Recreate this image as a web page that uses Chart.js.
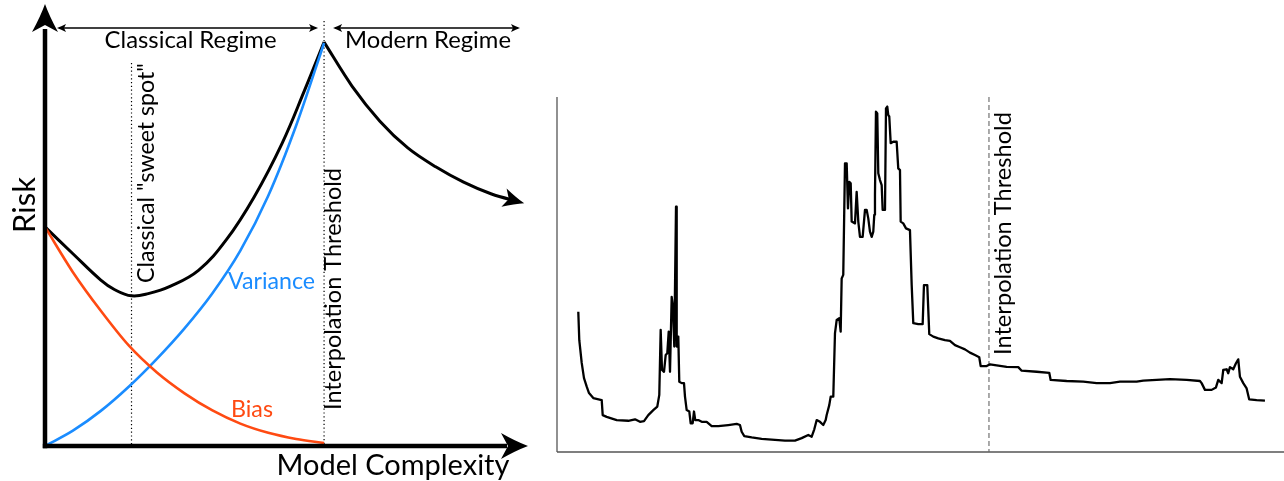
<!DOCTYPE html>
<html>
<head>
<meta charset="utf-8">
<script src="https://cdn.jsdelivr.net/npm/chart.js@4"></script>
<style>
  html, body { margin: 0; padding: 0; background: #fff; }
  #wrap { position: relative; width: 1284px; height: 481px; }
  #left { position: absolute; left: 0; top: 0; }
  #right { position: absolute; left: 540px; top: 0; }
</style>
</head>
<body>
<div id="wrap">
  <canvas id="left" width="540" height="481"></canvas>
  <canvas id="right" width="744" height="481"></canvas>
</div>
<script>
// ---- left panel: classical bias / variance picture ----
const complexity = [0, 0.1, 0.2, 0.3, 0.4, 0.5, 0.6, 0.7, 0.8, 0.9, 1.0];
const bias = [0.499, 0.396, 0.308, 0.229, 0.168, 0.120, 0.081, 0.051, 0.030, 0.016, 0.007];
const variance = [0, 0.035, 0.080, 0.135, 0.198, 0.268, 0.348, 0.445, 0.570, 0.730, 0.918];
const riskComplexity = [0, 0.1, 0.2, 0.25, 0.31, 0.37, 0.45, 0.55, 0.65, 0.75, 0.85, 0.93, 1.0];
const classicalRisk = [0.499, 0.438, 0.378, 0.356, 0.342, 0.347, 0.364, 0.400, 0.470, 0.568, 0.690, 0.810, 0.920];
const modernComplexity = [1.0, 1.1, 1.2, 1.3, 1.4, 1.5, 1.6, 1.7];
const modernRisk = [0.920, 0.820, 0.740, 0.679, 0.636, 0.601, 0.574, 0.556];
const sweetSpot = 0.31;
const threshold = 1.0;

// ---- right panel: measured test risk ----
const capacity = [
  0.0493, 0.0516, 0.0572, 0.0625, 0.0688, 0.0741, 0.0840, 0.1035, 0.1058, 0.1150,
  0.1382, 0.1650, 0.1806, 0.1921, 0.2014, 0.2113, 0.2229, 0.2322, 0.2368, 0.2400,
  0.2431, 0.2477, 0.2516, 0.2553, 0.2586, 0.2616, 0.2655, 0.2685, 0.2715, 0.2755,
  0.2771, 0.2808, 0.2831, 0.2887, 0.2940, 0.2963, 0.3002, 0.3063, 0.3095, 0.3141,
  0.3171, 0.3201, 0.3271, 0.3350, 0.3465, 0.3581, 0.3734, 0.3965, 0.4160, 0.4236,
  0.4275, 0.4336, 0.4507, 0.4738, 0.5046, 0.5278, 0.5509, 0.5664, 0.5817, 0.5896,
  0.5956, 0.6012, 0.6088, 0.6164, 0.6220, 0.6243, 0.6303, 0.6336, 0.6396, 0.6435,
  0.6475, 0.6535, 0.6567, 0.6590, 0.6627, 0.6667, 0.6706, 0.6736, 0.6766, 0.6799,
  0.6822, 0.6898, 0.6937, 0.6975, 0.7014, 0.7076, 0.7130, 0.7169, 0.7206, 0.7245,
  0.7285, 0.7322, 0.7345, 0.7361, 0.7384, 0.7414, 0.7438, 0.7477, 0.7516, 0.7539,
  0.7593, 0.7616, 0.7646, 0.7669, 0.7692, 0.7725, 0.7785, 0.7863, 0.7900, 0.7940,
  0.7956, 0.8016, 0.8079, 0.8171, 0.8211, 0.8248, 0.8363, 0.8465, 0.8495, 0.8572,
  0.8618, 0.8711, 0.8826, 0.8981, 0.9097, 0.9213, 0.9329, 0.9444, 0.9560, 0.9676,
  0.9775, 0.9808, 0.9947, 1.0023, 1.0178, 1.0410, 1.0678, 1.0757, 1.1104, 1.1396,
  1.1428, 1.1799, 1.2183, 1.2493, 1.2801, 1.3032, 1.3419, 1.3572, 1.4190, 1.4576,
  1.4884, 1.4923, 1.5000, 1.5155, 1.5255, 1.5308, 1.5387, 1.5424, 1.5502, 1.5539,
  1.5579, 1.5655, 1.5718, 1.5771, 1.5810, 1.5887, 1.5965, 1.6025, 1.6197, 1.6389
];
const testRisk = [
  0.395, 0.315, 0.251, 0.208, 0.184, 0.166, 0.152, 0.146, 0.104, 0.099,
  0.090, 0.088, 0.092, 0.085, 0.087, 0.104, 0.118, 0.128, 0.161, 0.344,
  0.231, 0.226, 0.273, 0.278, 0.339, 0.226, 0.437, 0.409, 0.297, 0.691,
  0.297, 0.325, 0.198, 0.194, 0.194, 0.156, 0.118, 0.114, 0.081, 0.081,
  0.114, 0.090, 0.090, 0.085, 0.085, 0.073, 0.073, 0.076, 0.079, 0.076,
  0.057, 0.045, 0.041, 0.037, 0.034, 0.032, 0.032, 0.039, 0.048, 0.043,
  0.064, 0.090, 0.085, 0.076, 0.090, 0.104, 0.132, 0.156, 0.156, 0.334,
  0.372, 0.377, 0.339, 0.489, 0.499, 0.813, 0.813, 0.686, 0.761, 0.757,
  0.649, 0.644, 0.733, 0.649, 0.606, 0.606, 0.682, 0.682, 0.658, 0.621,
  0.606, 0.621, 0.668, 0.724, 0.959, 0.954, 0.785, 0.766, 0.752, 0.682,
  0.682, 0.968, 0.973, 0.949, 0.945, 0.870, 0.874, 0.874, 0.799, 0.794,
  0.649, 0.644, 0.630, 0.625, 0.470, 0.363, 0.360, 0.360, 0.470, 0.470,
  0.332, 0.325, 0.320, 0.315, 0.313, 0.301, 0.295, 0.289, 0.280, 0.273,
  0.267, 0.242, 0.242, 0.247, 0.244, 0.240, 0.239, 0.229, 0.226, 0.223,
  0.203, 0.200, 0.198, 0.194, 0.194, 0.198, 0.198, 0.201, 0.205, 0.203,
  0.200, 0.194, 0.175, 0.175, 0.182, 0.203, 0.194, 0.231, 0.233, 0.222,
  0.239, 0.233, 0.250, 0.261, 0.212, 0.194, 0.179, 0.148, 0.146, 0.145
];
const interpolationPoint = 1.0;

const FONT = 'Lato, sans-serif';
const RED = '#ff4a12';
const BLUE = '#1a8cff';

function pts(xs, ys) {
  return xs.map((x, i) => ({ x: x, y: ys[i] }));
}

function fitSize(ctx, text, len) {
  ctx.font = '100px ' + FONT;
  return 100 * len / ctx.measureText(text).width;
}

// text of a given length; rotated ones read bottom to top
function label(ctx, text, x, y, len, opts) {
  opts = opts || {};
  const size = fitSize(ctx, text, len);
  ctx.save();
  ctx.font = size + 'px ' + FONT;
  ctx.fillStyle = opts.color || '#000';
  ctx.textAlign = opts.align || 'center';
  ctx.textBaseline = 'alphabetic';
  ctx.translate(x, y);
  if (opts.rotate) ctx.rotate(-Math.PI / 2);
  ctx.fillText(text, 0, 0);
  ctx.restore();
}

function arrowHead(ctx, tx, ty, ang, len, half, notch) {
  const dx = Math.cos(ang), dy = Math.sin(ang);
  const bx = tx - len * dx, by = ty - len * dy;
  const nx = tx - (len - notch) * dx, ny = ty - (len - notch) * dy;
  ctx.beginPath();
  ctx.moveTo(tx, ty);
  ctx.quadraticCurveTo(tx - len * 0.45 * dx - half * 0.35 * dy, ty - len * 0.45 * dy + half * 0.35 * dx,
    bx - half * dy, by + half * dx);
  ctx.lineTo(nx, ny);
  ctx.lineTo(bx + half * dy, by - half * dx);
  ctx.quadraticCurveTo(tx - len * 0.45 * dx + half * 0.35 * dy, ty - len * 0.45 * dy - half * 0.35 * dx,
    tx, ty);
  ctx.closePath();
  ctx.fill();
}

function seg(ctx, x1, y1, x2, y2) {
  ctx.beginPath();
  ctx.moveTo(x1, y1);
  ctx.lineTo(x2, y2);
  ctx.stroke();
}

const leftDecor = {
  id: 'leftDecor',
  beforeDatasetsDraw(chart) {
    const { ctx, chartArea: a, scales: { x } } = chart;
    const xs = x.getPixelForValue(sweetSpot), xt = x.getPixelForValue(threshold);
    ctx.save();
    ctx.strokeStyle = '#000';
    ctx.lineWidth = 1.2;
    ctx.setLineDash([1.2, 2.6]);
    seg(ctx, xs, a.top + 56, xs, a.bottom);
    seg(ctx, xt, a.top + 14, xt, a.bottom);
    ctx.restore();
  },
  afterDatasetsDraw(chart) {
    const { ctx, chartArea: a, scales: { x } } = chart;
    const x0 = x.getPixelForValue(0);
    const xs = x.getPixelForValue(sweetSpot), xt = x.getPixelForValue(threshold);
    ctx.save();
    ctx.fillStyle = '#000';
    ctx.strokeStyle = '#000';

    // thick axes with arrow tips
    ctx.lineWidth = 4.5;
    seg(ctx, a.left, a.bottom + 2.2, a.left, a.top + 22);
    seg(ctx, a.left - 2.2, a.bottom, a.right - 18, a.bottom);
    arrowHead(ctx, a.left, a.top - 3, -Math.PI / 2, 28, 13, 7);
    arrowHead(ctx, a.right + 3, a.bottom, 0, 27, 13, 7);

    // regime arrows
    const ya = a.top + 21;
    ctx.lineWidth = 1.3;
    seg(ctx, x0 + 14, ya, xt - 8, ya);
    arrowHead(ctx, x0 + 12, ya, Math.PI, 9, 4, 2);
    arrowHead(ctx, xt - 6, ya, 0, 9, 4, 2);
    seg(ctx, xt + 11, ya, a.right - 7, ya);
    arrowHead(ctx, xt + 9, ya, Math.PI, 9, 4, 2);
    arrowHead(ctx, a.right - 5, ya, 0, 9, 4, 2);

    // arrow at the end of the modern curve
    const m = chart.getDatasetMeta(3).data;
    const p1 = m[m.length - 2], p2 = m[m.length - 1];
    const ang = Math.atan2(p2.y - p1.y, p2.x - p1.x);
    arrowHead(ctx, p2.x + 5 * Math.cos(ang), p2.y + 5 * Math.sin(ang), ang, 21, 9.5, 5);
    ctx.restore();

    label(ctx, 'Classical Regime', (x0 + xt) / 2 + 6, a.top + 41, 172);
    label(ctx, 'Modern Regime', a.right - 97, a.top + 41, 166);
    label(ctx, 'Model Complexity', a.right - 132, a.bottom + 29, 233);
    label(ctx, 'Risk', a.left - 10, a.top + 198, 56, { rotate: true });
    label(ctx, 'Classical "sweet spot"', xs + 22, a.top + 276, 220, { rotate: true, align: 'left' });
    label(ctx, 'Interpolation Threshold', xt + 17, a.top + 403, 242, { rotate: true, align: 'left' });
    label(ctx, 'Variance', a.left + 183, a.top + 282, 87, { align: 'left', color: BLUE });
    label(ctx, 'Bias', a.left + 186, a.top + 410, 42, { align: 'left', color: RED });
  }
};

const rightDecor = {
  id: 'rightDecor',
  beforeDatasetsDraw(chart) {
    const { ctx, chartArea: a, scales: { x } } = chart;
    const xi = x.getPixelForValue(interpolationPoint);
    ctx.save();
    ctx.strokeStyle = '#555';
    ctx.lineWidth = 1.3;
    seg(ctx, a.left, a.top, a.left, a.bottom);
    seg(ctx, a.left, a.bottom, a.right, a.bottom);
    ctx.strokeStyle = '#666';
    ctx.lineWidth = 1.1;
    ctx.setLineDash([5, 3]);
    seg(ctx, xi, a.top, xi, a.bottom);
    ctx.restore();
  },
  afterDatasetsDraw(chart) {
    const { ctx, chartArea: a, scales: { x } } = chart;
    const xi = x.getPixelForValue(interpolationPoint);
    label(ctx, 'Interpolation Threshold', xi + 22, a.top + 258, 243, { rotate: true, align: 'left' });
  }
};

const common = {
  responsive: false,
  animation: false,
  events: [],
  plugins: { legend: { display: false }, tooltip: { enabled: false } },
  elements: { point: { radius: 0 } }
};

const smooth = { cubicInterpolationMode: 'monotone', clip: false };

new Chart(document.getElementById('left'), {
  type: 'line',
  data: {
    datasets: [
      Object.assign({ data: pts(complexity, bias), borderColor: RED, borderWidth: 2.6 }, smooth),
      Object.assign({ data: pts(complexity, variance), borderColor: BLUE, borderWidth: 2.6 }, smooth),
      { data: pts(riskComplexity, classicalRisk), borderColor: '#000', borderWidth: 3, tension: 0.4, clip: false },
      Object.assign({ data: pts(modernComplexity, modernRisk), borderColor: '#000', borderWidth: 3 }, smooth)
    ]
  },
  options: Object.assign({}, common, {
    layout: { padding: { left: 45, right: 15, top: 7, bottom: 35 } },
    scales: {
      x: { type: 'linear', min: 0, max: 1.72, display: false },
      y: { type: 'linear', min: 0, max: 1, display: false }
    }
  }),
  plugins: [leftDecor]
});

new Chart(document.getElementById('right'), {
  type: 'line',
  data: {
    datasets: [
      { data: pts(capacity, testRisk), borderColor: '#000', borderWidth: 2.3, tension: 0, borderJoinStyle: 'round', clip: false }
    ]
  },
  options: Object.assign({}, common, {
    layout: { padding: { left: 17, right: 0, top: 97, bottom: 29 } },
    scales: {
      x: { type: 'linear', min: 0, max: 1.683, display: false },
      y: { type: 'linear', min: 0, max: 1, display: false }
    }
  }),
  plugins: [rightDecor]
});
</script>
</body>
</html>
